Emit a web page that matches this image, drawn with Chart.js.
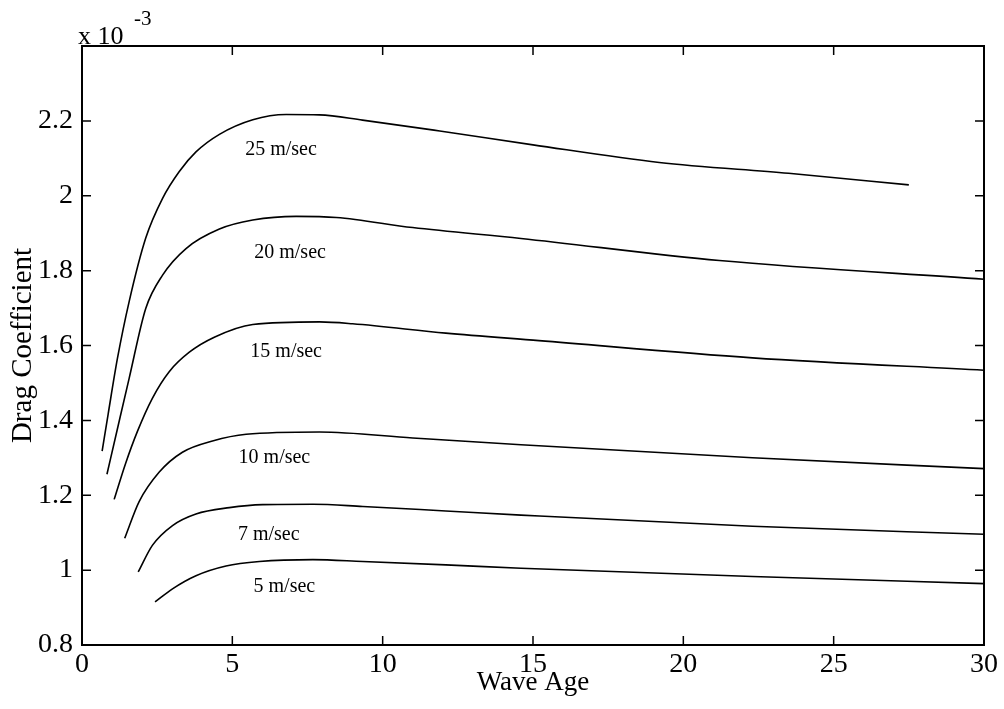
<!DOCTYPE html>
<html><head><meta charset="utf-8">
<script src="https://cdn.jsdelivr.net/npm/chart.js@4"></script>
<style>html,body{margin:0;padding:0;background:#fff;}#wrap{width:1004px;height:709px;}</style>
</head><body><div id="wrap"><canvas id="c" width="1004" height="709"></canvas></div>
<script>
// Wave age (x) and drag coefficient (y, x 10^-3) for each wind speed
const waveAge25 = [0.67, 0.87, 1.18, 1.57, 2.12, 2.68, 3.23, 3.79, 4.57, 5.68, 6.79, 7.9, 9.33, 11.9, 15.0, 19.2, 23.5, 27.5];
const cd25      = [1.318, 1.417, 1.566, 1.718, 1.887, 1.993, 2.064, 2.117, 2.164, 2.203, 2.217, 2.216, 2.202, 2.173, 2.136, 2.089, 2.060, 2.029];
const waveAge20 = [0.83, 1.2, 1.57, 2.12, 2.68, 3.46, 4.57, 5.68, 7.12, 8.46, 11.0, 14.6, 21.2, 30];
const cd20      = [1.256, 1.385, 1.513, 1.699, 1.788, 1.859, 1.911, 1.935, 1.945, 1.942, 1.915, 1.886, 1.827, 1.777];
const waveAge15 = [1.07, 1.45, 1.84, 2.34, 2.9, 3.57, 4.4, 5.68, 7.9, 9.0, 12.1, 15.2, 22.3, 30];
const cd15      = [1.189, 1.285, 1.370, 1.459, 1.530, 1.582, 1.622, 1.656, 1.663, 1.658, 1.633, 1.613, 1.567, 1.534];
const waveAge10 = [1.42, 1.9, 2.57, 3.34, 4.34, 5.46, 7.9, 11.0, 14.6, 22.3, 30];
const cd10      = [1.085, 1.183, 1.262, 1.315, 1.345, 1.363, 1.369, 1.353, 1.335, 1.300, 1.271];
const waveAge7  = [1.87, 2.34, 3.01, 3.79, 4.9, 6.01, 7.68, 9.34, 12.1, 14.6, 22.3, 30];
const cd7       = [0.995, 1.066, 1.119, 1.150, 1.167, 1.175, 1.176, 1.170, 1.158, 1.147, 1.117, 1.096];
const waveAge5  = [2.43, 3.01, 3.79, 4.79, 5.9, 7.68, 9.34, 12.1, 14.6, 22.3, 30];
const cd5       = [0.915, 0.950, 0.985, 1.011, 1.023, 1.028, 1.023, 1.014, 1.005, 0.983, 0.964];

// Curve labels and their anchor points (data units)
const curveLabels = ['25 m/sec', '20 m/sec', '15 m/sec', '10 m/sec', '7 m/sec', '5 m/sec'];
const labelWaveAge = [6.62, 6.92, 6.79, 6.4, 6.21, 6.73];
const labelCd      = [2.124, 1.847, 1.584, 1.299, 1.094, 0.956];

const xTickValues = [0, 5, 10, 15, 20, 25, 30];
const yTickValues = [0.8, 1.0, 1.2, 1.4, 1.6, 1.8, 2.0, 2.2, 2.4];

const seriesX = [waveAge25, waveAge20, waveAge15, waveAge10, waveAge7, waveAge5];
const seriesY = [cd25, cd20, cd15, cd10, cd7, cd5];

const FONT = '"Liberation Serif", "Times New Roman", serif';
Chart.defaults.font.family = FONT;
Chart.defaults.color = '#000';

const datasets = seriesX.map((xs, i) => ({
  label: curveLabels[i],
  data: xs.map((v, j) => ({x: v, y: seriesY[i][j]})),
  borderColor: '#000',
  borderWidth: 1.6,
  pointRadius: 0,
  fill: false,
  cubicInterpolationMode: 'monotone'
}));

const framePlugin = {
  id: 'frame',
  afterDatasetsDraw(chart) {
    const {ctx, chartArea: a, scales: {x, y}} = chart;
    ctx.save();
    ctx.strokeStyle = '#000';
    ctx.lineWidth = 2;
    ctx.strokeRect(a.left, a.top, a.right - a.left, a.bottom - a.top);
    ctx.lineWidth = 1.5;
    const tl = 9;
    xTickValues.forEach(v => {
      const px = x.getPixelForValue(v);
      ctx.beginPath();
      ctx.moveTo(px, a.bottom); ctx.lineTo(px, a.bottom - tl);
      ctx.moveTo(px, a.top); ctx.lineTo(px, a.top + tl);
      ctx.stroke();
    });
    yTickValues.forEach(v => {
      const py = y.getPixelForValue(v);
      ctx.beginPath();
      ctx.moveTo(a.left, py); ctx.lineTo(a.left + tl, py);
      ctx.moveTo(a.right, py); ctx.lineTo(a.right - tl, py);
      ctx.stroke();
    });
    ctx.fillStyle = '#000';
    ctx.font = '20px ' + FONT;
    ctx.textAlign = 'center';
    ctx.textBaseline = 'middle';
    curveLabels.forEach((s, i) => {
      ctx.fillText(s, x.getPixelForValue(labelWaveAge[i]), y.getPixelForValue(labelCd[i]));
    });
    ctx.textAlign = 'left';
    ctx.textBaseline = 'alphabetic';
    ctx.font = '26px ' + FONT;
    ctx.fillText('x 10', 78, 44);
    ctx.font = '21px ' + FONT;
    ctx.fillText('-3', 134, 25);
    ctx.restore();
  }
};

new Chart(document.getElementById('c'), {
  type: 'line',
  data: {datasets},
  options: {
    responsive: false,
    animation: false,
    devicePixelRatio: 1,
    layout: {padding: {top: 46, right: 20, left: 0, bottom: 0}},
    plugins: {legend: {display: false}, tooltip: {enabled: false}},
    scales: {
      x: {
        type: 'linear', min: 0, max: 30,
        afterBuildTicks: s => { s.ticks = xTickValues.map(v => ({value: v})); },
        afterFit: s => { s.height = 64; },
        grid: {display: false, drawTicks: false},
        border: {display: false},
        ticks: {font: {size: 28}, color: '#000', padding: 3, maxRotation: 0,
                callback: v => String(v)},
        title: {display: true, text: 'Wave Age', font: {size: 27}, color: '#000',
                padding: {top: 0, bottom: 10}}
      },
      y: {
        type: 'linear', min: 0.8, max: 2.4,
        afterBuildTicks: s => { s.ticks = yTickValues.map(v => ({value: v})); },
        afterFit: s => { s.width = 82; },
        grid: {display: false, drawTicks: false},
        border: {display: false},
        ticks: {font: {size: 28}, color: '#000', padding: 9,
                callback: v => (v > 2.39 ? '' : String(Math.round(v * 10) / 10))},
        title: {display: true, text: 'Drag Coefficient', font: {size: 29}, color: '#000',
                padding: {top: 6, bottom: 0}}
      }
    }
  },
  plugins: [framePlugin]
});
</script>
</body></html>
